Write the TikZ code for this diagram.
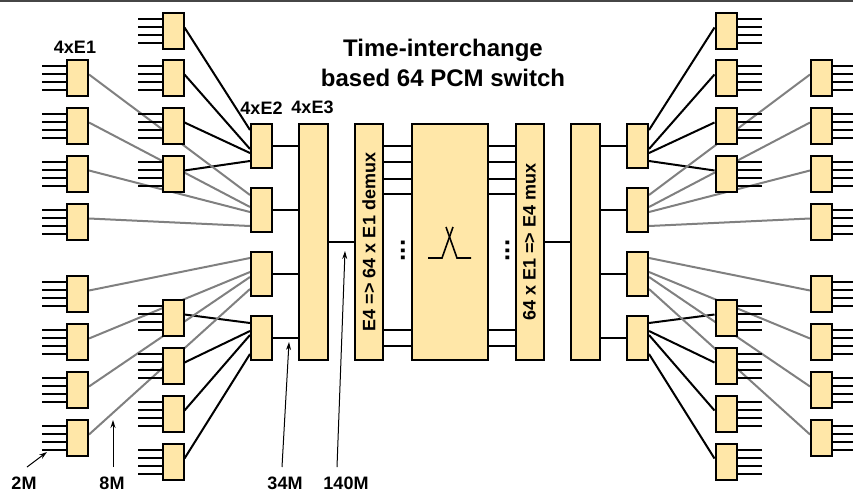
\documentclass[tikz,border=0pt]{standalone}
\usepackage{fontspec}
\setmainfont{Liberation Sans}
\usetikzlibrary{arrows.meta,backgrounds,calc}
\definecolor{boxfill}{RGB}{255,231,168}
\definecolor{grayline}{RGB}{128,128,128}
\definecolor{frameline}{RGB}{70,70,70}
\tikzset{
  unit/.style={draw=black, fill=boxfill, line width=2pt, minimum width=21pt, minimum height=36pt, inner sep=0pt},
  etwo/.style={unit, minimum height=44pt},
  tallbox/.style={draw=black, fill=boxfill, line width=2pt, minimum height=236pt, inner sep=0pt},
  blk/.style={line width=2pt, black},
  gry/.style={line width=2pt, grayline},
  tickline/.style={line width=2pt, black},
  lbl/.style={font=\bfseries\fontsize{18}{21}\selectfont, inner sep=0pt},
  dotlbl/.style={font=\bfseries\fontsize{26}{30}\selectfont, inner sep=0pt},
  ptr/.style={line width=1pt, -{Stealth[length=8pt,width=5pt]}}
}
\begin{document}
\begin{tikzpicture}[x=1pt,y=-1pt]
\useasboundingbox (0,0) rectangle (853,493);
\draw[line width=1.5pt, frameline] (0,0.75) -- (853,0.75);

% ---------- left side ----------
\foreach \n/\y in {1/78,2/126,3/174,4/222,5/294,6/342,7/390,8/438}{
  \node[unit] (o\n) at (77.5,\y) {};
  \foreach \d in {-12,-4,4,12} \draw[tickline] ([yshift=\d pt]o\n.west) -- ++(-24,0);
}
\foreach \n/\y in {1/31,2/78,3/126,4/174,5/318,6/366,7/414,8/462}{
  \node[unit] (i\n) at (173,\y) {};
  \foreach \d in {-12,-4,4,12} \draw[tickline] ([yshift=\d pt]i\n.west) -- ++(-24,0);
}
\node[etwo] (e2a) at (261.5,146) {};
\node[etwo] (e2b) at (261.5,210) {};
\node[etwo] (e2c) at (261.5,274) {};
\node[etwo] (e2d) at (261.5,338) {};
\node[tallbox, minimum width=29pt] (e3L) at (313.5,242) {};
\node[tallbox, minimum width=28pt] (dmx) at (369,242) {};
\node[lbl, rotate=90] at (dmx.center) {E4 => 64 x E1 demux};
\node[tallbox, minimum width=76pt] (sw) at (449.5,242) {};

% ---------- right side ----------
\node[tallbox, minimum width=28pt] (mux) at (529.5,242) {};
\node[lbl, rotate=90] at (mux.center) {64 x E1 => E4 mux};
\node[tallbox, minimum width=29pt] (e3R) at (585.5,242) {};
\node[etwo] (f2a) at (637.5,146) {};
\node[etwo] (f2b) at (637.5,210) {};
\node[etwo] (f2c) at (637.5,274) {};
\node[etwo] (f2d) at (637.5,338) {};
\foreach \n/\y in {1/31,2/78,3/126,4/174,5/318,6/366,7/414,8/462}{
  \node[unit] (ri\n) at (726,\y) {};
  \foreach \d in {-12,-4,4,12} \draw[tickline] ([yshift=\d pt]ri\n.east) -- ++(24,0);
}
\foreach \n/\y in {1/78,2/126,3/174,4/222,5/294,6/342,7/390,8/438}{
  \node[unit] (ro\n) at (821.5,\y) {};
  \foreach \d in {-12,-4,4,12} \draw[tickline] ([yshift=\d pt]ro\n.east) -- ++(24,0);
}

% ---------- connectors (behind boxes) ----------
\begin{scope}[on background layer]
  \foreach \n/\s in {1/16,2/-3,3/-7,4/-15}
    \draw[blk] ([yshift=3.5pt]i\n.east) -- ([yshift=\s pt]e2a.west);
  \foreach \n/\s in {5/15,6/7,7/3,8/-16}
    \draw[blk] ([yshift=3.5pt]i\n.east) -- ([yshift=\s pt]e2d.west);
  \foreach \n/\s in {1/15,2/3,3/-2,4/-16}
    \draw[gry] ([yshift=3.5pt]o\n.east) -- ([yshift=\s pt]e2b.west);
  \foreach \n/\s in {5/16,6/2,7/-3,8/-15}
    \draw[gry] ([yshift=3.5pt]o\n.east) -- ([yshift=\s pt]e2c.west);
  \foreach \n/\s in {1/16,2/-3,3/-7,4/-15}
    \draw[blk] ([yshift=3.5pt]ri\n.west) -- ([yshift=\s pt]f2a.east);
  \foreach \n/\s in {5/15,6/7,7/3,8/-16}
    \draw[blk] ([yshift=3.5pt]ri\n.west) -- ([yshift=\s pt]f2d.east);
  \foreach \n/\s in {1/15,2/3,3/-2,4/-16}
    \draw[gry] ([yshift=3.5pt]ro\n.west) -- ([yshift=\s pt]f2b.east);
  \foreach \n/\s in {5/16,6/2,7/-3,8/-15}
    \draw[gry] ([yshift=3.5pt]ro\n.west) -- ([yshift=\s pt]f2c.east);
\end{scope}

% E2 <-> E3
\foreach \b in {e2a,e2b,e2c,e2d} \draw[blk] (\b.east) -- (\b.east -| e3L.west);
\foreach \b in {f2a,f2b,f2c,f2d} \draw[blk] (\b.west) -- (\b.west -| e3R.east);
\draw[blk] (e3L.east) -- (dmx.west);
\draw[blk] (mux.east) -- (e3R.west);
\foreach \y in {146,162,179,194,330,346}{
  \draw[blk] (dmx.east |- 0,\y) -- (sw.west |- 0,\y);
  \draw[blk] (sw.east |- 0,\y) -- (mux.west |- 0,\y);
}
\node[dotlbl, rotate=90] (dotsL) at (403,250.5) {...};
\node[dotlbl, rotate=90] (dotsR) at (507.5,250.5) {...};

% switch symbol
\draw[line width=1.6pt] ($(sw.center)+(-21.5,16)$) -- ++(14,0) -- ++(11,-31);
\draw[line width=1.6pt] ($(sw.center)+(-3.5,-15)$) -- ++(11,31) -- ++(14,0);

% ---------- labels ----------
\node[font=\bfseries\fontsize{24}{30}\selectfont, align=center] (title) at (443,63) {Time-interchange\\based 64 PCM switch};
\node[lbl] (lE1) at (75,47) {4xE1};
\node[lbl] (lE2) at (261.5,108) {4xE2};
\node[lbl] (lE3) at (312.5,107) {4xE3};
\node[lbl] (l2M) at (24,483) {2M};
\node[lbl] (l8M) at (112,483) {8M};
\node[lbl] (l34M) at (285,483) {34M};
\node[lbl] (l140M) at (346,483) {140M};

\coordinate (a2s) at (27,467);   \coordinate (a2t) at (47,452);
\coordinate (a8s) at (113,467);  \coordinate (a8t) at (113,420);
\coordinate (a34s) at (282,467); \coordinate (a34t) at (289,342);
\coordinate (a140s) at (337,467);\coordinate (a140t) at (345,251);
\draw[ptr] (a2s) -- (a2t);
\draw[ptr] (a8s) -- (a8t);
\draw[ptr] (a34s) -- (a34t);
\draw[ptr] (a140s) -- (a140t);
\end{tikzpicture}
\end{document}
